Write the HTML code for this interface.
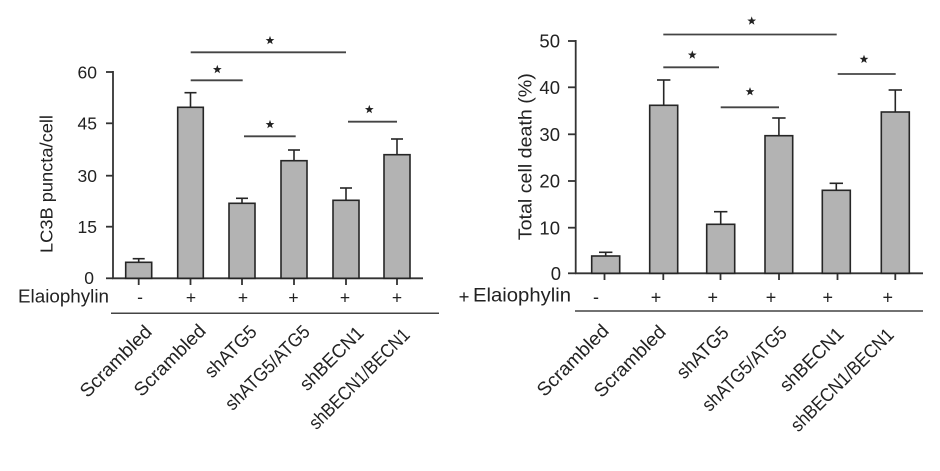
<!DOCTYPE html>
<html>
<head>
<meta charset="utf-8">
<style>
html,body{margin:0;padding:0;background:#fff;}
svg{display:block;}
text{font-family:"Liberation Sans",sans-serif;fill:#222;}
</style>
</head>
<body>
<svg width="940" height="471" viewBox="0 0 940 471" xmlns="http://www.w3.org/2000/svg">
<rect width="940" height="471" fill="#fff"/>

<!-- ================= LEFT CHART ================= -->
<g stroke="#333" stroke-width="1.8" fill="none">
  <line x1="113" y1="71" x2="113" y2="279"/>
  <line x1="112" y1="278.3" x2="423" y2="278.3"/>
  <line x1="106" y1="72" x2="113" y2="72"/>
  <line x1="106" y1="123.3" x2="113" y2="123.3"/>
  <line x1="106" y1="175.7" x2="113" y2="175.7"/>
  <line x1="106" y1="226.7" x2="113" y2="226.7"/>
  <line x1="106" y1="278.3" x2="113" y2="278.3"/>
  <line x1="138.7" y1="278" x2="138.7" y2="285"/>
  <line x1="190.5" y1="278" x2="190.5" y2="285"/>
  <line x1="242" y1="278" x2="242" y2="285"/>
  <line x1="294" y1="278" x2="294" y2="285"/>
  <line x1="346" y1="278" x2="346" y2="285"/>
  <line x1="397" y1="278" x2="397" y2="285"/>
</g>
<g font-size="17.5" text-anchor="end">
  <text x="97" y="78.3">60</text>
  <text x="97" y="129.6">45</text>
  <text x="97" y="182">30</text>
  <text x="97" y="233">15</text>
  <text x="94" y="284">0</text>
</g>
<text x="52.5" y="184" font-size="17.5" text-anchor="middle" transform="rotate(-90 52.5 184)" textLength="138" lengthAdjust="spacingAndGlyphs">LC3B puncta/cell</text>

<!-- bars left -->
<g fill="#b3b3b3" stroke="#262626" stroke-width="1.6">
  <rect x="125.7" y="262.3" width="26" height="16"/>
  <rect x="177.7" y="107.3" width="25.6" height="171"/>
  <rect x="229" y="203.3" width="26" height="75"/>
  <rect x="281" y="160.7" width="26" height="117.6"/>
  <rect x="333" y="200.3" width="26" height="78"/>
  <rect x="384" y="154.7" width="26" height="123.6"/>
</g>
<g stroke="#262626" stroke-width="1.6">
  <line x1="138.7" y1="262.3" x2="138.7" y2="258.7"/><line x1="132.7" y1="258.7" x2="144.7" y2="258.7"/>
  <line x1="190.5" y1="107.3" x2="190.5" y2="92.7"/><line x1="184.5" y1="92.7" x2="196.5" y2="92.7"/>
  <line x1="242" y1="203.3" x2="242" y2="198.3"/><line x1="236" y1="198.3" x2="248" y2="198.3"/>
  <line x1="294" y1="160.7" x2="294" y2="150"/><line x1="288" y1="150" x2="300" y2="150"/>
  <line x1="346" y1="200.3" x2="346" y2="188"/><line x1="340" y1="188" x2="352" y2="188"/>
  <line x1="397" y1="154.7" x2="397" y2="139"/><line x1="391" y1="139" x2="403" y2="139"/>
</g>
<!-- significance left -->
<g stroke="#444" stroke-width="1.8">
  <line x1="190.7" y1="52.3" x2="346" y2="52.3"/>
  <line x1="190.7" y1="80.3" x2="242.7" y2="80.3"/>
  <line x1="244" y1="136.3" x2="295.7" y2="136.3"/>
  <line x1="348" y1="121.7" x2="397" y2="121.7"/>
</g>
<g fill="#222">
  <polygon transform="translate(270 40.5)" points="0,-4.6 1.117,-1.537 4.375,-1.421 1.807,0.587 2.704,3.721 0,1.9 -2.704,3.721 -1.807,0.587 -4.375,-1.421 -1.117,-1.537"/>
  <polygon transform="translate(217.3 69.5)" points="0,-4.6 1.117,-1.537 4.375,-1.421 1.807,0.587 2.704,3.721 0,1.9 -2.704,3.721 -1.807,0.587 -4.375,-1.421 -1.117,-1.537"/>
  <polygon transform="translate(270 124.5)" points="0,-4.6 1.117,-1.537 4.375,-1.421 1.807,0.587 2.704,3.721 0,1.9 -2.704,3.721 -1.807,0.587 -4.375,-1.421 -1.117,-1.537"/>
  <polygon transform="translate(369.3 109.5)" points="0,-4.6 1.117,-1.537 4.375,-1.421 1.807,0.587 2.704,3.721 0,1.9 -2.704,3.721 -1.807,0.587 -4.375,-1.421 -1.117,-1.537"/>
</g>
<!-- treatment row left -->
<text x="18" y="302.5" font-size="18" textLength="91" lengthAdjust="spacingAndGlyphs">Elaiophylin</text>
<g font-size="17.5" text-anchor="middle">
  <text x="140" y="303">-</text>
  <text x="191" y="303.5">+</text>
  <text x="243" y="303.5">+</text>
  <text x="293.5" y="303.5">+</text>
  <text x="345" y="303.5">+</text>
  <text x="397" y="303.5">+</text>
</g>
<line x1="111" y1="313.3" x2="439" y2="313.3" stroke="#444" stroke-width="1.5"/>
<g font-size="19" text-anchor="end">
  <text transform="translate(153 333) rotate(-45) scale(1.02 1)">Scrambled</text>
  <text transform="translate(207 332) rotate(-45) scale(1.02 1)">Scrambled</text>
  <text transform="translate(258 333) rotate(-45) scale(0.95 1)">shATG5</text>
  <text transform="translate(311 333) rotate(-45) scale(0.91 1)">shATG5/ATG5</text>
  <text transform="translate(365 334) rotate(-45) scale(0.98 1)">shBECN1</text>
  <text transform="translate(411 336) rotate(-45) scale(0.88 1)">shBECN1/BECN1</text>
</g>

<!-- ================= RIGHT CHART ================= -->
<g stroke="#333" stroke-width="1.8" fill="none">
  <line x1="575.7" y1="40" x2="575.7" y2="274"/>
  <line x1="575" y1="273.3" x2="923" y2="273.3"/>
  <line x1="568" y1="41" x2="575.7" y2="41"/>
  <line x1="568" y1="87.3" x2="575.7" y2="87.3"/>
  <line x1="568" y1="134.3" x2="575.7" y2="134.3"/>
  <line x1="568" y1="181" x2="575.7" y2="181"/>
  <line x1="568" y1="227.7" x2="575.7" y2="227.7"/>
  <line x1="568" y1="273.3" x2="575.7" y2="273.3"/>
  <line x1="604.5" y1="273" x2="604.5" y2="280"/>
  <line x1="663.3" y1="273" x2="663.3" y2="280"/>
  <line x1="720.5" y1="273" x2="720.5" y2="280"/>
  <line x1="779" y1="273" x2="779" y2="280"/>
  <line x1="837.5" y1="273" x2="837.5" y2="280"/>
  <line x1="895.3" y1="273" x2="895.3" y2="280"/>
</g>
<g font-size="18.5" text-anchor="end">
  <text x="560" y="47.6">50</text>
  <text x="560" y="94">40</text>
  <text x="560" y="141">30</text>
  <text x="560" y="187.6">20</text>
  <text x="560" y="234.3">10</text>
  <text x="561" y="280">0</text>
</g>
<text x="531.5" y="156.7" font-size="18.5" text-anchor="middle" transform="rotate(-90 531.5 156.7)" textLength="167" lengthAdjust="spacingAndGlyphs">Total cell death (%)</text>

<g fill="#b3b3b3" stroke="#262626" stroke-width="1.6">
  <rect x="591.7" y="256" width="28" height="17.3"/>
  <rect x="649.7" y="105.3" width="28" height="168"/>
  <rect x="706.7" y="224.3" width="28" height="49"/>
  <rect x="765" y="135.7" width="27.7" height="137.6"/>
  <rect x="822.3" y="190.3" width="28" height="83"/>
  <rect x="881.3" y="112" width="28" height="161.3"/>
</g>
<g stroke="#262626" stroke-width="1.6">
  <line x1="605.7" y1="256" x2="605.7" y2="252.3"/><line x1="599" y1="252.3" x2="612.4" y2="252.3"/>
  <line x1="663.7" y1="105.3" x2="663.7" y2="80"/><line x1="657" y1="80" x2="670.4" y2="80"/>
  <line x1="720.7" y1="224.3" x2="720.7" y2="211.7"/><line x1="714" y1="211.7" x2="727.4" y2="211.7"/>
  <line x1="778.9" y1="135.7" x2="778.9" y2="118"/><line x1="772.2" y1="118" x2="785.6" y2="118"/>
  <line x1="836.3" y1="190.3" x2="836.3" y2="183.3"/><line x1="829.6" y1="183.3" x2="843" y2="183.3"/>
  <line x1="895.3" y1="112" x2="895.3" y2="90"/><line x1="888.6" y1="90" x2="902" y2="90"/>
</g>
<g stroke="#444" stroke-width="1.8">
  <line x1="663.3" y1="34.5" x2="836.7" y2="34.5"/>
  <line x1="663.3" y1="67.3" x2="719" y2="67.3"/>
  <line x1="720.7" y1="107.3" x2="779" y2="107.3"/>
  <line x1="837.7" y1="74" x2="895.7" y2="74"/>
</g>
<g fill="#222">
  <polygon transform="translate(751.7 21)" points="0,-4.6 1.117,-1.537 4.375,-1.421 1.807,0.587 2.704,3.721 0,1.9 -2.704,3.721 -1.807,0.587 -4.375,-1.421 -1.117,-1.537"/>
  <polygon transform="translate(692.3 55)" points="0,-4.6 1.117,-1.537 4.375,-1.421 1.807,0.587 2.704,3.721 0,1.9 -2.704,3.721 -1.807,0.587 -4.375,-1.421 -1.117,-1.537"/>
  <polygon transform="translate(750 91.7)" points="0,-4.6 1.117,-1.537 4.375,-1.421 1.807,0.587 2.704,3.721 0,1.9 -2.704,3.721 -1.807,0.587 -4.375,-1.421 -1.117,-1.537"/>
  <polygon transform="translate(864 59.3)" points="0,-4.6 1.117,-1.537 4.375,-1.421 1.807,0.587 2.704,3.721 0,1.9 -2.704,3.721 -1.807,0.587 -4.375,-1.421 -1.117,-1.537"/>
</g>
<text x="464" y="303" font-size="18.5" text-anchor="middle">+</text>
<text x="473" y="301.5" font-size="19" textLength="98" lengthAdjust="spacingAndGlyphs">Elaiophylin</text>
<g font-size="18" text-anchor="middle">
  <text x="596" y="303">-</text>
  <text x="656" y="303.5">+</text>
  <text x="712.7" y="303.5">+</text>
  <text x="771" y="303.5">+</text>
  <text x="827.7" y="303.5">+</text>
  <text x="887.7" y="303.5">+</text>
</g>
<line x1="575" y1="311" x2="923" y2="311" stroke="#444" stroke-width="1.5"/>
<g font-size="19" text-anchor="end">
  <text transform="translate(610 332) rotate(-45) scale(1.02 1)">Scrambled</text>
  <text transform="translate(667 333) rotate(-45) scale(1.02 1)">Scrambled</text>
  <text transform="translate(730 334) rotate(-45) scale(0.95 1)">shATG5</text>
  <text transform="translate(788 334) rotate(-45) scale(0.91 1)">shATG5/ATG5</text>
  <text transform="translate(845 335) rotate(-45) scale(0.98 1)">shBECN1</text>
  <text transform="translate(895 336) rotate(-45) scale(0.9 1)">shBECN1/BECN1</text>
</g>
</svg>
</body>
</html>
